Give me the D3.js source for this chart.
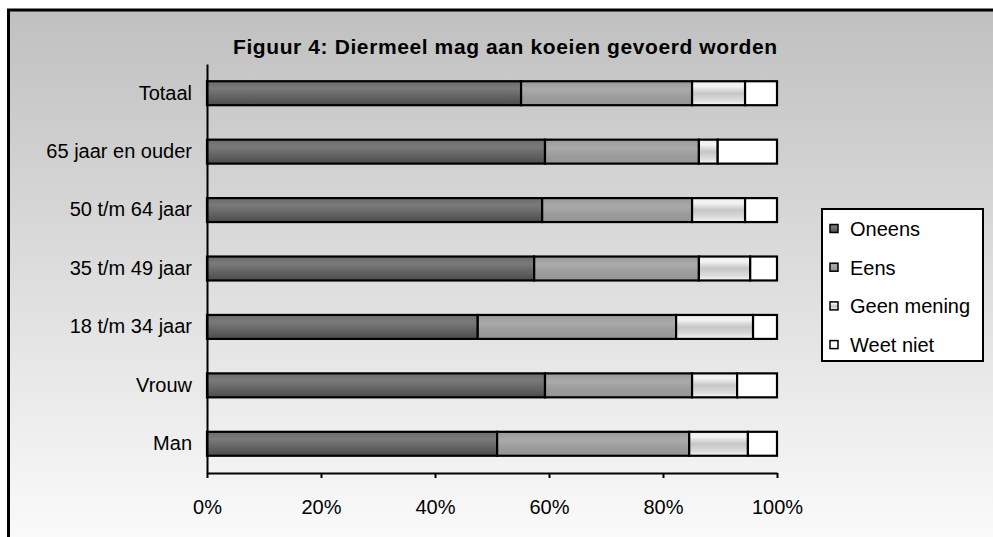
<!DOCTYPE html>
<html>
<head>
<meta charset="utf-8">
<script src="https://cdn.jsdelivr.net/npm/d3@7"></script>
<style>
  html, body { margin: 0; padding: 0; background: #fff; overflow: hidden; }
  svg { display: block; }
  text { font-family: "Liberation Sans", Arial, sans-serif; fill: #000; }
</style>
</head>
<body>
<div id="chart"></div>
<script>
// data (percent per answer)
const categories = ["Totaal", "65 jaar en ouder", "50 t/m 64 jaar", "35 t/m 49 jaar", "18 t/m 34 jaar", "Vrouw", "Man"];
const seriesNames = ["Oneens", "Eens", "Geen mening", "Weet niet"];
const oneens = [55.1, 59.3, 58.8, 57.4, 47.5, 59.3, 50.9];
const eens = [30.0, 27.0, 26.3, 28.9, 34.8, 25.8, 33.7];
const geenMening = [9.3, 3.3, 9.3, 9.0, 13.5, 7.9, 10.3];
const weetNiet = [5.6, 10.4, 5.6, 4.7, 4.2, 7.0, 5.1];
const tickValues = [0, 20, 40, 60, 80, 100];
const titleText = "Figuur 4: Diermeel mag aan koeien gevoerd worden";

const W = 993, H = 537;
const margin = { top: 64, right: 216, bottom: 64, left: 207 },
  width = W - margin.left - margin.right,
  height = H - margin.top - margin.bottom;

const svg = d3.select("#chart").append("svg").attr("width", W).attr("height", H);
const defs = svg.append("defs");

// background gradient of the chart area
const bg = defs.append("linearGradient").attr("id", "bg").attr("x1", 0).attr("y1", 0).attr("x2", 0).attr("y2", 1);
bg.append("stop").attr("offset", 0).attr("stop-color", "#c0c0c0");
bg.append("stop").attr("offset", 1).attr("stop-color", "#fbfbfb");

// banded fills like the picture
const fills = [
  [[0, "#6c6c6c"], [0.3, "#7a7a7a"], [0.6, "#666666"], [1, "#4c4c4c"]],
  [[0, "#9a9a9a"], [0.35, "#aaaaaa"], [0.65, "#9c9c9c"], [1, "#959595"]],
  [[0, "#ececec"], [0.2, "#f4f4f4"], [0.5, "#c6c6c6"], [0.8, "#dcdcdc"], [1, "#f8f8f8"]],
  [[0, "#ffffff"], [1, "#ffffff"]]
];
fills.forEach((stops, i) => {
  const g = defs.append("linearGradient").attr("id", "f" + i).attr("x1", 0).attr("y1", 0).attr("x2", 0).attr("y2", 1);
  stops.forEach((s) => g.append("stop").attr("offset", s[0]).attr("stop-color", s[1]));
});

// chart area: only top and left edges show, the rest runs off the page
svg.append("rect")
  .attr("x", 8.5).attr("y", 10)
  .attr("width", W).attr("height", H)
  .attr("fill", "url(#bg)");
svg.append("path")
  .attr("d", `M8.5,${H}V10H${W}`)
  .attr("fill", "none")
  .attr("stroke", "#000").attr("stroke-width", 3);

svg.append("text")
  .attr("x", 505).attr("y", 54)
  .attr("text-anchor", "middle")
  .attr("font-size", 21).attr("font-weight", "bold")
  .attr("textLength", 544).attr("lengthAdjust", "spacing")
  .text(titleText);

const g = svg.append("g").attr("transform", `translate(${margin.left},${margin.top})`);

const x = d3.scaleLinear().domain([0, 100]).range([0, width]);
const y = d3.scaleBand().domain(categories).range([0, height]).paddingInner(0.59).paddingOuter(0.295);

// stack the rows
const rows = categories.map((c, i) => ({
  cat: c, "Oneens": oneens[i], "Eens": eens[i], "Geen mening": geenMening[i], "Weet niet": weetNiet[i]
}));
const stacked = d3.stack().keys(seriesNames)(rows);

g.append("g")
  .selectAll("g")
  .data(stacked)
  .join("g")
  .attr("fill", (d, i) => `url(#f${i})`)
  .selectAll("rect")
  .data((d) => d)
  .join("rect")
  .attr("x", (d) => x(d[0]))
  .attr("y", (d) => y(d.data.cat))
  .attr("width", (d) => x(d[1]) - x(d[0]))
  .attr("height", y.bandwidth())
  .attr("stroke", "#000")
  .attr("stroke-width", 2.2);

// axes
const xAxis = g.append("g")
  .attr("transform", `translate(0,${height})`)
  .call(d3.axisBottom(x).tickValues(tickValues).tickFormat((d) => d + "%").tickSize(5).tickSizeOuter(0).tickPadding(22));
const yAxis = g.append("g")
  .call(d3.axisLeft(y).tickSize(0).tickPadding(15));

[xAxis, yAxis].forEach((a) => {
  a.select(".domain").attr("stroke", "#000").attr("stroke-width", 2);
  a.selectAll(".tick line").attr("stroke", "#000").attr("stroke-width", 2);
  a.selectAll("text").attr("font-size", 20).attr("font-family", null).attr("fill", "#000");
});

// legend
const lg = svg.append("g").attr("transform", "translate(822,209)");
lg.append("rect").attr("width", 161).attr("height", 152).attr("fill", "#fff").attr("stroke", "#000").attr("stroke-width", 2);
const item = lg.selectAll("g.item").data(seriesNames).join("g")
  .attr("class", "item")
  .attr("transform", (d, i) => `translate(0,${20 + i * 38.7})`);
item.append("rect")
  .attr("x", 8).attr("y", -4.5).attr("width", 8).attr("height", 8)
  .attr("fill", (d, i) => `url(#f${i})`)
  .attr("stroke", "#000").attr("stroke-width", 1.5);
item.append("text")
  .attr("x", 28).attr("y", 7)
  .attr("font-size", 20)
  .text((d) => d);
</script>
</body>
</html>
